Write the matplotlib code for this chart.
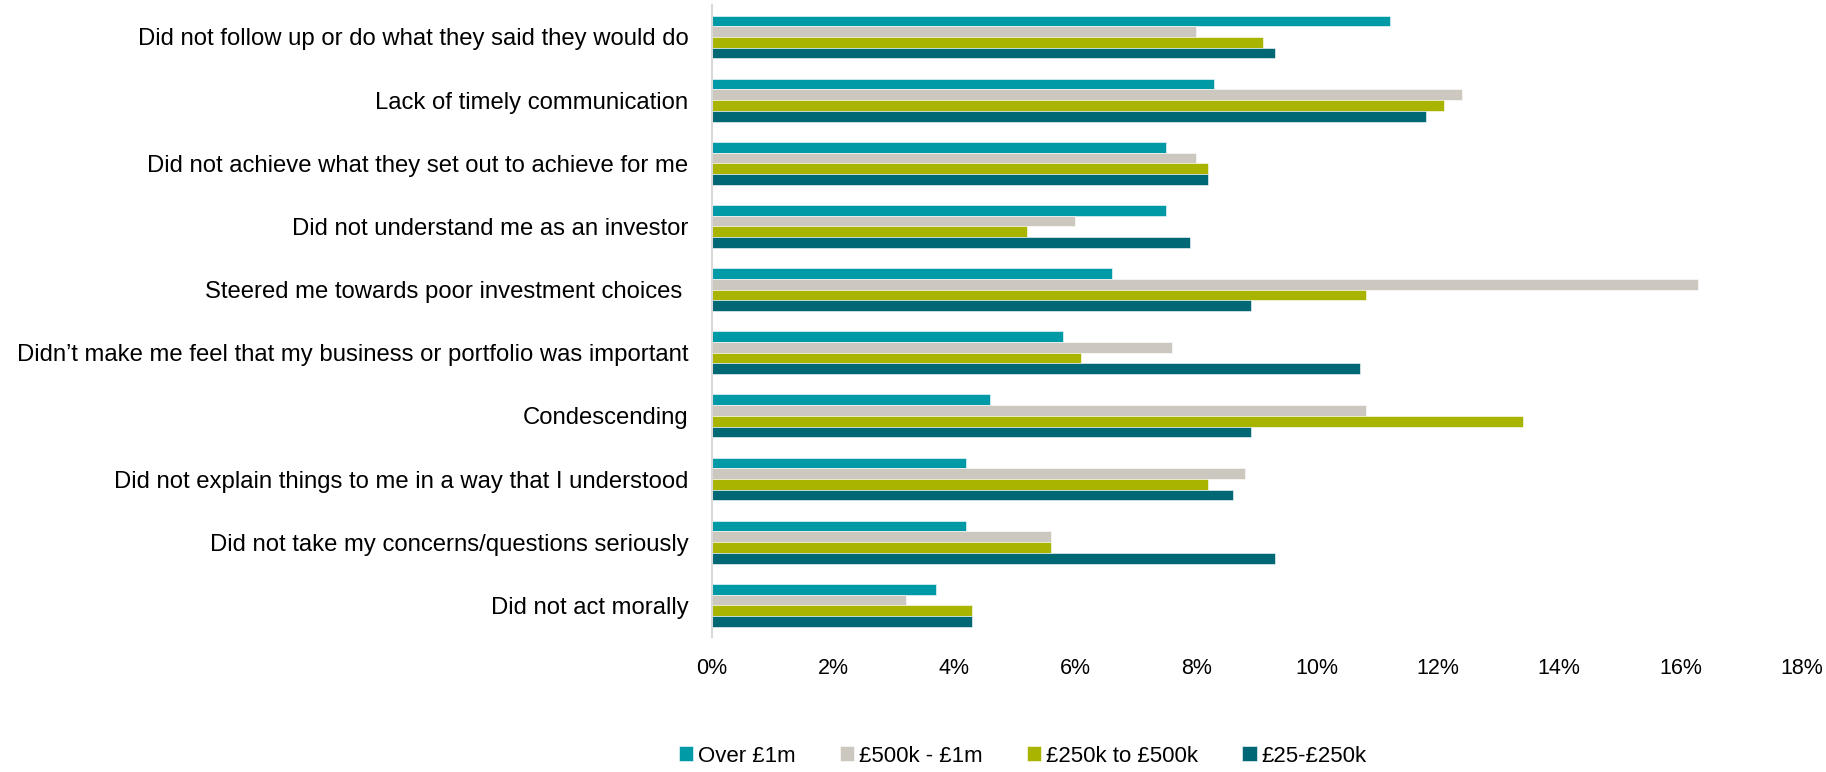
import numpy as np
import matplotlib.pyplot as plt

plt.rcParams['font.family'] = ['Liberation Sans', 'DejaVu Sans']

categories = [
    'Did not follow up or do what they said they would do',
    'Lack of timely communication',
    'Did not achieve what they set out to achieve for me',
    'Did not understand me as an investor',
    'Steered me towards poor investment choices ',
    'Didn\u2019t make me feel that my business or portfolio was important',
    'Condescending',
    'Did not explain things to me in a way that I understood',
    'Did not take my concerns/questions seriously',
    'Did not act morally',
]

series = ['Over \u00a31m', '\u00a3500k - \u00a31m', '\u00a3250k to \u00a3500k', '\u00a325-\u00a3250k']

over_1m = [11.2, 8.3, 7.5, 7.5, 6.6, 5.8, 4.6, 4.2, 4.2, 3.7]
k500_1m = [8.0, 12.4, 8.0, 6.0, 16.3, 7.6, 10.8, 8.8, 5.6, 3.2]
k250_500 = [9.1, 12.1, 8.2, 5.2, 10.8, 6.1, 13.4, 8.2, 5.6, 4.3]
k25_250 = [9.3, 11.8, 8.2, 7.9, 8.9, 10.7, 8.9, 8.6, 9.3, 4.3]

colors = ['#0099A6', '#CCC7BF', '#A9B400', '#006775']

fig = plt.figure(figsize=(18.26, 7.72), dpi=100)
ax = fig.add_axes([0.390, 0.175, 0.5965, 0.818])

y = np.arange(len(categories))
h = 0.17
for j, (vals, lab, c) in enumerate(zip([over_1m, k500_1m, k250_500, k25_250], series, colors)):
    ax.barh(y + (j - 1.5) * h, vals, height=h, color=c, label=lab,
            edgecolor='white', linewidth=0.4)

ax.set_ylim(len(categories) - 0.5, -0.5)
ax.set_xlim(0, 18)
ax.set_xticks(np.arange(0, 19, 2))
ax.set_xticklabels([f'{t}%' for t in range(0, 19, 2)])
ax.set_yticks(y)
ax.set_yticklabels(categories)
ax.tick_params(axis='both', length=0, colors='black')
ax.tick_params(axis='y', pad=17, labelsize=17.2)
ax.tick_params(axis='x', pad=15, labelsize=15.5)

for s in ['top', 'right', 'bottom']:
    ax.spines[s].set_visible(False)
ax.spines['left'].set_color('#D9D9D9')
ax.spines['left'].set_linewidth(1.5)

fig.legend(loc='lower center', bbox_to_anchor=(0.560, -0.016), ncol=4, frameon=False,
           fontsize=16, handlelength=0.65, handleheight=0.65, handletextpad=0.2,
           columnspacing=2.0, borderpad=0.3)

fig.savefig('out.png', dpi=100)
